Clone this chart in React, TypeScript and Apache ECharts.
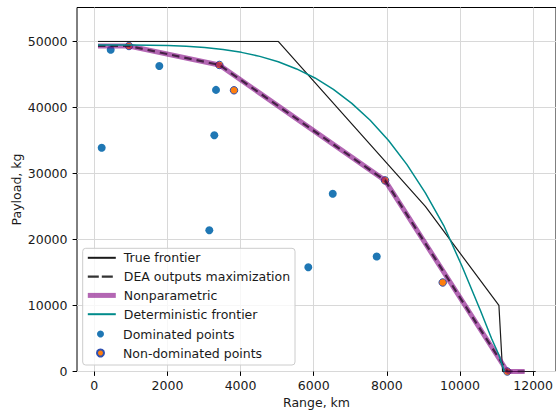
import React, { useEffect, useRef } from "react";
import * as echarts from "echarts";

// True frontier
const trueX = [100, 5000, 9000, 11000, 11100, 12000];
const trueY = [50000, 50000, 25000, 10000, 0, 0];
// DEA outputs maximization
const deaX = [100, 943, 3399, 7904, 11229, 11700];
const deaY = [49305, 49305, 46433, 28945, 0, 0];
// Nonparametric
const npX = [100, 943, 3399, 7904, 11229, 11700];
const npY = [49305, 49305, 46433, 28945, 0, 0];
// Deterministic frontier
const detX = [100, 500, 1000, 1500, 2000, 2500, 3000, 3500, 4000, 4500, 5000, 5500, 6000, 6500, 7000, 7500, 8000, 8500, 9000, 9500, 10000, 10500, 10800, 11000, 11150];
const detY = [49450, 49450, 49440, 49420, 49365, 49250, 49070, 48770, 48340, 47730, 46910, 45830, 44460, 42740, 40620, 38050, 34980, 31340, 27060, 22110, 15900, 9200, 5000, 2500, 0];
// Dominated points
const domX = [446, 1767, 3309, 3263, 201, 3127, 6482, 5818, 7678];
const domY = [48745, 46282, 42654, 35793, 33888, 21388, 26934, 15795, 17413];
// Non-dominated points
const ndX = [943, 3399, 3798, 7904, 9472, 11229];
const ndY = [49305, 46433, 42594, 28945, 13482, 0];

const xTicks = [0, 2000, 4000, 6000, 8000, 10000, 12000];
const yTicks = [0, 10000, 20000, 30000, 40000, 50000];

const FONT = "DejaVu Sans";
const TXT = "#1a1a1a";
const DASH = [7.5, 5];

const zip = (xs: number[], ys: number[]) => xs.map((x, i) => [x, ys[i]]);

export default function App() {
  const ref = useRef<HTMLDivElement>(null);
  useEffect(() => {
    const chart = echarts.init(ref.current!, null, { renderer: "svg" });
    const xMin = xTicks[0];
    const xMax = xTicks[xTicks.length - 1];
    const xInt = xTicks[1] - xTicks[0];
    const yMin = yTicks[0];
    const yMax = yTicks[yTicks.length - 1];
    const yInt = yTicks[1] - yTicks[0];
    const hidden = { show: false };
    const option: any = {
      animation: false,
      backgroundColor: "#fff",
      textStyle: { fontFamily: FONT },
      grid: [
        { left: 77, top: 7.5, width: 481.5, height: 364, show: true, borderColor: "#000", borderWidth: 1, backgroundColor: "transparent" },
        { left: 94.3, top: 41.4, width: 441.4, height: 330.1 },
        { left: 77, top: 41.4, width: 481.5, height: 330.1 },
        { left: 94.3, top: 7.5, width: 441.4, height: 364 },
      ],
      xAxis: [
        {
          gridIndex: 0, type: "value", min: 0, max: 1,
          axisLine: hidden, axisTick: hidden, axisLabel: hidden, splitLine: hidden,
          name: "Range, km", nameLocation: "middle", nameGap: 24,
          nameTextStyle: { fontSize: 12.5, color: TXT, fontFamily: FONT },
        },
        { gridIndex: 1, type: "value", min: xMin, max: xMax, show: false },
        { gridIndex: 2, type: "value", min: 0, max: 1, show: false },
        {
          gridIndex: 3, type: "value", min: xMin, max: xMax, interval: xInt,
          axisLine: hidden,
          axisTick: { show: true, length: 4.4, lineStyle: { color: "#000", width: 1 } },
          axisLabel: { margin: 7, fontSize: 12.5, color: TXT, fontFamily: FONT, formatter: (v: number) => String(v) },
          splitLine: { show: true, lineStyle: { color: "#d8d8d8", width: 1 } },
        },
      ],
      yAxis: [
        {
          gridIndex: 0, type: "value", min: 0, max: 1,
          axisLine: hidden, axisTick: hidden, axisLabel: hidden, splitLine: hidden,
          name: "Payload, kg", nameLocation: "middle", nameGap: 54.5, nameRotate: 90,
          nameTextStyle: { fontSize: 12.5, color: TXT, fontFamily: FONT },
        },
        { gridIndex: 1, type: "value", min: yMin, max: yMax, show: false },
        {
          gridIndex: 2, type: "value", min: yMin, max: yMax, interval: yInt,
          axisLine: hidden,
          axisTick: { show: true, length: 4.4, lineStyle: { color: "#000", width: 1 } },
          axisLabel: { margin: 9.5, fontSize: 12.5, color: TXT, fontFamily: FONT, formatter: (v: number) => String(v) },
          splitLine: { show: true, lineStyle: { color: "#d8d8d8", width: 1 } },
        },
        { gridIndex: 3, type: "value", min: 0, max: 1, show: false },
      ],
      legend: [
        {
          data: [
            { name: "True frontier" },
            { name: "DEA outputs maximization", lineStyle: { width: 2.2, type: [11, 3], color: "#333", opacity: 1 } },
            { name: "Nonparametric", lineStyle: { width: 5 } },
            { name: "Deterministic frontier" },
          ],
          orient: "vertical", left: 85.3, top: 251.3, itemWidth: 28, itemHeight: 14, itemGap: 5.8,
          padding: 0, selectedMode: false,
          itemStyle: { opacity: 0 },
          textStyle: { fontSize: 12.5, color: TXT, fontFamily: FONT, padding: [0, 0, 0, 3] },
        },
        {
          data: ["Dominated points", "Non-dominated points"],
          orient: "vertical", left: 96, top: 327.5, itemWidth: 7, itemHeight: 7, itemGap: 6,
          padding: 0, selectedMode: false,
          textStyle: { fontSize: 12.5, color: TXT, fontFamily: FONT, padding: [0, 0, 0, 14] },
        },
      ],
      graphic: [
        {
          type: "rect", z: 3,
          shape: { x: 82.7, y: 248.3, width: 212.3, height: 116.7, r: 3 },
          style: { fill: "rgba(255,255,255,0.8)", stroke: "#cccccc", lineWidth: 1 },
        },
      ],
      series: [
        {
          name: "True frontier", type: "line", xAxisIndex: 1, yAxisIndex: 1,
          data: zip(trueX, trueY), symbol: "none",
          lineStyle: { color: "#1a1a1a", width: 1.2 }, itemStyle: { color: "#1a1a1a" },
        },
        {
          name: "Nonparametric", type: "line", xAxisIndex: 1, yAxisIndex: 1,
          data: zip(npX, npY), symbol: "none",
          lineStyle: { color: "#800080", opacity: 0.6, width: 5 }, itemStyle: { color: "#b366b3" },
        },
        {
          name: "DEA outputs maximization", type: "line", xAxisIndex: 1, yAxisIndex: 1,
          data: zip(deaX, deaY), symbol: "none",
          lineStyle: { color: "#2a102a", opacity: 0.8, width: 2.2, type: DASH }, itemStyle: { color: "#444" },
        },
        {
          name: "Deterministic frontier", type: "line", xAxisIndex: 1, yAxisIndex: 1,
          data: zip(detX, detY), symbol: "none",
          lineStyle: { color: "#008b8b", width: 1.5 }, itemStyle: { color: "#008b8b" },
        },
        {
          name: "Dominated points", type: "scatter", xAxisIndex: 1, yAxisIndex: 1,
          data: zip(domX, domY), symbol: "circle", symbolSize: 8,
          itemStyle: { color: "#1f77b4", opacity: 1 },
        },
        {
          name: "Non-dominated points", type: "scatter", xAxisIndex: 1, yAxisIndex: 1,
          data: zip(ndX, ndY), symbol: "circle", symbolSize: 7.5, clip: false,
          itemStyle: { color: "#ff7f0e", borderColor: "#3050b0", borderWidth: 1, opacity: 1 },
        },
      ],
    };
    chart.setOption(option);
    return () => chart.dispose();
  }, []);
  return (
    <div
      ref={ref}
      style={{ position: "absolute", left: 0, top: 0, width: 556, height: 415, background: "#fff" }}
    />
  );
}
